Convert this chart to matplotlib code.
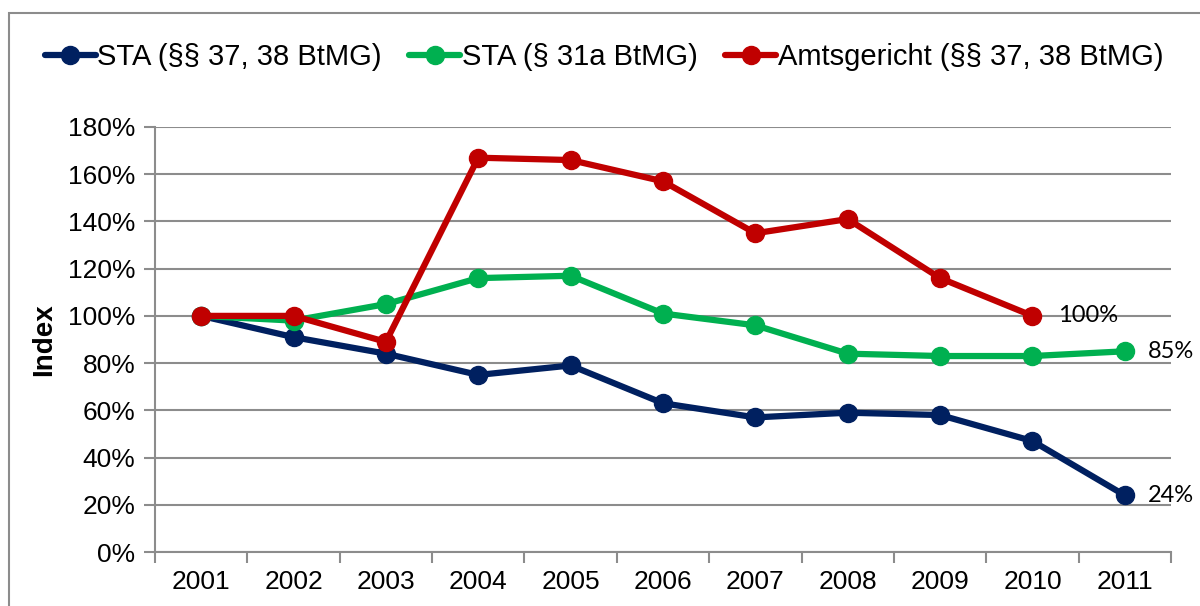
import matplotlib.pyplot as plt
from matplotlib.patches import Rectangle
from matplotlib.ticker import FuncFormatter

years = ['2001', '2002', '2003', '2004', '2005', '2006', '2007', '2008', '2009', '2010', '2011']
sta_37 = [100, 91, 84, 75, 79, 63, 57, 59, 58, 47, 24]
sta_31a = [100, 98, 105, 116, 117, 101, 96, 84, 83, 83, 85]
amtsgericht = [100, 100, 89, 167, 166, 157, 135, 141, 116, 100]
labels = ['STA (§§ 37, 38 BtMG)', 'STA (§ 31a BtMG)', 'Amtsgericht (§§ 37, 38 BtMG)']

plt.rcParams['font.family'] = ['Liberation Sans', 'DejaVu Sans']

fig = plt.figure(figsize=(12, 6.06), dpi=100)
ax = fig.add_axes([155 / 1200, 1 - 552 / 606, 1016 / 1200, 425 / 606])

# outer chart border (cut off on right and bottom)
fig.patches.append(Rectangle((9 / 1200, -0.1), 1.2, 1 - 13 / 606 + 0.1,
                             transform=fig.transFigure, fill=False,
                             edgecolor='#8c8c8c', linewidth=1.5))

x = list(range(len(years)))
series = [
    (sta_37, '#002060'),
    (sta_31a, '#00B050'),
    (amtsgericht, '#C00000'),
]
for (vals, col), lab in zip(series, labels):
    ax.plot(x[:len(vals)], vals, color=col, lw=4.5, marker='o', ms=13,
            solid_capstyle='round', label=lab, zorder=3)

# end labels
end_font = dict(fontsize=17, family=['Lato', 'DejaVu Sans'], va='center')
ax.text(len(amtsgericht) - 1 + 0.28, amtsgericht[-1], '100%', **end_font)
ax.text(len(sta_31a) - 1 + 0.25, sta_31a[-1], '85%', **end_font)
ax.text(len(sta_37) - 1 + 0.25, sta_37[-1], '24%', **end_font)

ax.set_xlim(-0.5, len(years) - 0.5)
ax.set_ylim(0, 180)
ax.set_yticks(range(0, 181, 20))
ax.yaxis.set_major_formatter(FuncFormatter(lambda v, p: f'{int(v)}%'))
ax.set_xticks([i - 0.5 for i in range(len(years) + 1)])
ax.set_xticklabels([])
ax.set_xticks(x, minor=True)
ax.set_xticklabels(years, minor=True)
ax.tick_params(axis='x', which='minor', length=0, labelsize=19, pad=13)
ax.tick_params(axis='x', which='major', length=8, width=1.5, color='#8c8c8c')
ax.tick_params(axis='y', length=8, width=1.5, color='#8c8c8c', labelsize=19, pad=6)

ax.grid(axis='y', color='#8c8c8c', lw=1.5)
ax.set_axisbelow(True)
for s in ['top', 'right']:
    ax.spines[s].set_visible(False)
for s in ['left', 'bottom']:
    ax.spines[s].set_color('#8c8c8c')
    ax.spines[s].set_linewidth(1.5)

ax.set_ylabel('Index', fontsize=20, fontweight='bold', labelpad=8)

fig.legend(loc='center left', bbox_to_anchor=(33 / 1200, 1 - 57 / 606), ncol=3,
           frameon=False, fontsize=21, handlelength=1.75, handletextpad=0.05,
           columnspacing=0.95, borderaxespad=0)

fig.savefig('out.png', dpi=100)
